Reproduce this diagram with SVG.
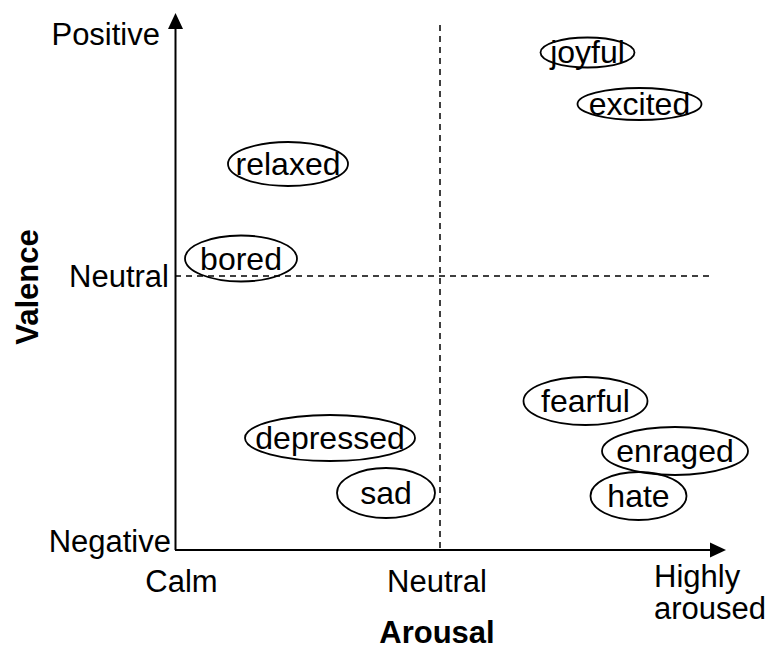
<svg xmlns="http://www.w3.org/2000/svg" width="770" height="652" viewBox="0 0 770 652">
<style>
text{font-family:"Liberation Sans",Arial,sans-serif;font-size:31px;fill:#000}
.n text{font-size:32px;text-anchor:middle}
.b{font-weight:bold}
.e{fill:none;stroke:#000;stroke-width:1.8}
.ax{stroke:#000;stroke-width:2;fill:none}
.d{stroke:#000;stroke-width:1.5;stroke-dasharray:6,5;fill:none}
</style>
<rect width="770" height="652" fill="#fff"/>
<g id="connectors">
<line class="d" x1="440" y1="25" x2="440" y2="550"/>
<line class="d" x1="175" y1="276" x2="710" y2="276"/>
<line class="ax" x1="175.5" y1="550" x2="175.5" y2="26"/>
<polygon points="175.5,13 168,29 183,29" fill="#000"/>
<line class="ax" x1="175" y1="550" x2="712" y2="550"/>
<polygon points="726,550 710,542.5 710,557.5" fill="#000"/>
</g>
<g id="labels">
<text x="160" y="45" text-anchor="end">Positive</text>
<text x="169" y="287" text-anchor="end">Neutral</text>
<text x="171" y="552" text-anchor="end">Negative</text>
<text x="181.5" y="592" text-anchor="middle">Calm</text>
<text x="437" y="592" text-anchor="middle">Neutral</text>
<text x="654" y="587">Highly</text>
<text x="654" y="619">aroused</text>
<text class="b" x="437" y="643" text-anchor="middle">Arousal</text>
<text class="b" transform="translate(38,287) rotate(-90)" text-anchor="middle">Valence</text>
</g>
<g class="n">
<g id="joyful"><ellipse class="e" cx="587.5" cy="52.5" rx="47" ry="15"/><text x="587.5" y="63">joyful</text></g>
<g id="excited"><ellipse class="e" cx="639.5" cy="104" rx="62" ry="16"/><text x="639.5" y="115">excited</text></g>
<g id="relaxed"><ellipse class="e" cx="288" cy="164" rx="60" ry="22"/><text x="288" y="175">relaxed</text></g>
<g id="bored"><ellipse class="e" cx="241" cy="258.5" rx="56" ry="23"/><text x="241" y="269.5">bored</text></g>
<g id="depressed"><ellipse class="e" cx="330" cy="438" rx="85" ry="23"/><text x="330" y="449">depressed</text></g>
<g id="sad"><ellipse class="e" cx="386" cy="493" rx="49" ry="25"/><text x="386" y="504">sad</text></g>
<g id="fearful"><ellipse class="e" cx="585.5" cy="401" rx="62" ry="24"/><text x="585.5" y="412">fearful</text></g>
<g id="enraged"><ellipse class="e" cx="675" cy="451" rx="73" ry="24"/><text x="675" y="462">enraged</text></g>
<g id="hate"><ellipse class="e" cx="638.5" cy="496" rx="48" ry="24"/><text x="638.5" y="507">hate</text></g>
</g>
</svg>
